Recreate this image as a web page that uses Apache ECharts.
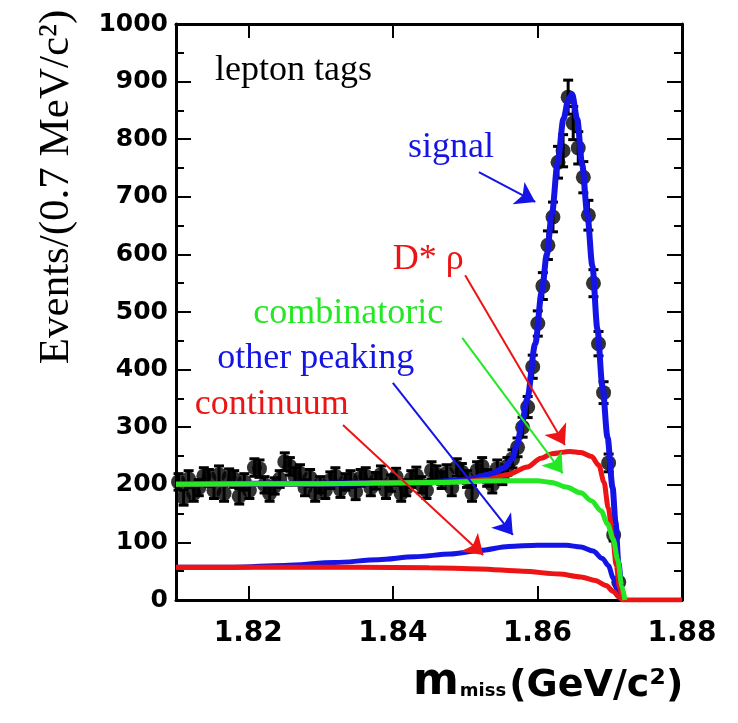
<!DOCTYPE html>
<html>
<head>
<meta charset="utf-8">
<script src="https://cdn.jsdelivr.net/npm/echarts@6/dist/echarts.min.js"></script>
<style>
  html, body { margin: 0; padding: 0; background: #fff; }
  #chart { width: 738px; height: 723px; }
</style>
</head>
<body>
<div id="chart"></div>
<script>
// histogram binning: 0.7 MeV/c^2 bins from 1.81 GeV/c^2
const binStart = 1.81
const binWidth = 0.0007

// events per bin
const counts = [
  205, 178, 210, 185, 195, 215, 212, 190, 218, 185,
  213, 210, 180, 205, 190, 230, 228, 200, 185, 198,
  210, 240, 232, 215, 220, 195, 212, 185, 200, 190,
  208, 215, 192, 205, 210, 188, 212, 215, 195, 207,
  218, 190, 203, 214, 185, 195, 210, 216, 200, 190,
  225, 218, 208, 220, 195, 230, 222, 210, 185, 225,
  232, 212, 200, 228, 215, 232, 245, 265, 300, 335,
  405, 480, 545, 616, 665, 760, 780, 873, 828, 785,
  734, 668, 550, 445, 360, 238, 113, 31
]

const xTicks = [1.82, 1.84, 1.86, 1.88]

// fit components, [mmiss, events]
const totalFit = [
  [1.810, 201], [1.830, 202], [1.845, 204], [1.850, 208], [1.8535, 218],
  [1.8555, 230], [1.8565, 245], [1.8572, 270], [1.8579, 310], [1.8586, 350],
  [1.8597, 445], [1.8606, 535], [1.8613, 600], [1.862, 670], [1.8628, 760],
  [1.8636, 835], [1.8643, 870], [1.8648, 878], [1.8655, 835], [1.8662, 755],
  [1.8669, 670], [1.8676, 580], [1.8683, 470], [1.869, 370], [1.8697, 282],
  [1.8704, 195], [1.8708, 135], [1.8712, 64], [1.8717, 12], [1.872, 0]
]
const dstarRho = [
  [1.810, 201], [1.830, 202], [1.845, 204], [1.850, 206], [1.853, 209],
  [1.856, 218], [1.8586, 231], [1.8605, 246], [1.862, 254], [1.8645, 258],
  [1.866, 256], [1.8675, 249], [1.8685, 234], [1.8692, 205], [1.8698, 160],
  [1.8704, 110], [1.8709, 60], [1.8714, 20], [1.8718, 0]
]
const combinatoric = [
  [1.810, 201], [1.830, 202], [1.845, 204], [1.855, 207], [1.860, 207],
  [1.862, 204], [1.864, 196], [1.866, 186], [1.8675, 172], [1.8688, 155],
  [1.8697, 132], [1.8705, 105], [1.8711, 70], [1.8717, 23], [1.8721, 0]
]
const otherPeaking = [
  [1.810, 57], [1.818, 57], [1.825, 60], [1.832, 65], [1.838, 70],
  [1.843, 75], [1.848, 80], [1.852, 86], [1.856, 93], [1.860, 95],
  [1.864, 95], [1.866, 92], [1.8677, 85], [1.869, 72], [1.8698, 60],
  [1.8705, 38], [1.8711, 14], [1.8716, 0]
]
const continuum = [
  [1.810, 57], [1.825, 57], [1.835, 57], [1.845, 56], [1.852, 54],
  [1.858, 50], [1.863, 45], [1.866, 40], [1.868, 34], [1.8695, 25],
  [1.8705, 15], [1.8713, 5], [1.8718, 0], [1.880, 0]
]

const BLUE = '#1414e6'
const GREEN = '#25e825'
const RED = '#ec1414'

// labels: text, baseline anchor in data units, colour
const notes = [
  { text: 'lepton tags', at: [1.8154, 898], color: '#000' },
  { text: 'signal', at: [1.8421, 764], color: BLUE },
  { text: 'D* ρ', at: [1.8400, 570], color: RED },
  { text: 'combinatoric', at: [1.8207, 476], color: GREEN },
  { text: 'other peaking', at: [1.8157, 399], color: BLUE },
  { text: 'continuum', at: [1.8126, 318], color: RED }
]
// arrows: from -> to, in data units
const arrows = [
  { coords: [[1.8519, 743], [1.8597, 691]], color: BLUE },
  { coords: [[1.8500, 564], [1.8638, 269]], color: RED },
  { coords: [[1.8496, 455], [1.8635, 220]], color: GREEN },
  { coords: [[1.8400, 377], [1.8566, 113]], color: BLUE },
  { coords: [[1.8331, 304], [1.8525, 78]], color: RED }
]

const points = counts.map((c, i) => [binStart + (i + 0.5) * binWidth, c])

const chart = echarts.init(document.getElementById('chart'))

const fitLine = (name, data, color, width) => ({
  name,
  type: 'line',
  data,
  symbol: 'none',
  smooth: 0.3,
  smoothMonotone: 'x',
  lineStyle: { color, width },
  silent: true
})

const frame = { color: '#000', width: 3 }
const tickStyle = { color: '#000', width: 2 }
chart.setOption({
  animation: false,
  grid: { left: 176, right: 56, top: 24, bottom: 123, show: true, borderColor: '#000', borderWidth: 2 },
  xAxis: [
    {
      type: 'value', min: 1.81, max: 1.88, position: 'bottom',
      axisLine: { onZero: false, lineStyle: frame },
      axisTick: { inside: true, length: 14, customValues: xTicks, lineStyle: tickStyle },
      axisLabel: {
        customValues: xTicks, formatter: v => v.toFixed(2), margin: 20,
        color: '#000', fontFamily: 'DejaVu Sans', fontWeight: 'bold', fontSize: 28
      },
      splitLine: { show: false }
    },
    {
      type: 'value', min: 1.81, max: 1.88, position: 'top',
      axisLine: { onZero: false, lineStyle: frame },
      axisTick: { inside: true, length: 14, customValues: xTicks, lineStyle: tickStyle },
      axisLabel: { show: false },
      splitLine: { show: false }
    }
  ],
  yAxis: [
    {
      type: 'value', min: 0, max: 1000, interval: 100, position: 'left',
      axisLine: { show: true, onZero: false, lineStyle: frame },
      axisTick: { show: true, inside: true, length: 15, lineStyle: tickStyle },
      minorTick: { show: true, splitNumber: 2, length: 8, lineStyle: tickStyle },
      axisLabel: {
        margin: 8, formatter: v => String(v),
        color: '#000', fontFamily: 'DejaVu Sans', fontWeight: 'bold', fontSize: 25
      },
      splitLine: { show: false }
    },
    {
      type: 'value', min: 0, max: 1000, interval: 100, position: 'right',
      axisLine: { show: true, onZero: false, lineStyle: frame },
      axisTick: { show: true, inside: true, length: 15, lineStyle: tickStyle },
      minorTick: { show: true, splitNumber: 2, length: 8, lineStyle: tickStyle },
      axisLabel: { show: false },
      splitLine: { show: false }
    }
  ],
  series: [
    {
      name: 'errors',
      type: 'custom',
      data: points,
      silent: true,
      renderItem: (params, api) => {
        const x = api.value(0)
        const y = api.value(1)
        const e = Math.sqrt(y)
        const top = api.coord([x, y + e])
        const bot = api.coord([x, y - e])
        const st = { stroke: '#000', lineWidth: 3 }
        return {
          type: 'group',
          children: [
            { type: 'line', shape: { x1: top[0], y1: top[1], x2: bot[0], y2: bot[1] }, style: st },
            { type: 'line', shape: { x1: top[0] - 5, y1: top[1], x2: top[0] + 5, y2: top[1] }, style: st },
            { type: 'line', shape: { x1: bot[0] - 5, y1: bot[1], x2: bot[0] + 5, y2: bot[1] }, style: st }
          ]
        }
      }
    },
    {
      name: 'data',
      type: 'scatter',
      data: points,
      symbol: 'circle',
      symbolSize: 15,
      itemStyle: { color: '#000' },
      silent: true
    },
    fitLine('total', totalFit, BLUE, 6),
    fitLine('other peaking', otherPeaking, BLUE, 5),
    fitLine('continuum', continuum, RED, 5),
    fitLine('D* rho', dstarRho, RED, 5),
    fitLine('combinatoric', combinatoric, GREEN, 5),
    {
      name: 'arrows',
      type: 'lines',
      coordinateSystem: 'cartesian2d',
      symbol: ['none', 'arrow'],
      symbolSize: 19,
      silent: true,
      data: arrows.map(a => ({ coords: a.coords, lineStyle: { color: a.color, width: 2, opacity: 1 } })),
      z: 5
    }
  ]
})

// annotations placed from data coordinates
const graphics = notes.map(n => {
  const p = chart.convertToPixel({ gridIndex: 0 }, n.at)
  return {
    type: 'text', x: p[0], y: p[1] - 12, z: 10,
    style: {
      text: n.text, fill: n.color, fontFamily: 'Liberation Serif', fontSize: 36,
      align: 'left', verticalAlign: 'middle'
    }
  }
})
graphics.push({
  type: 'text', x: 57, y: 187, rotation: Math.PI / 2, z: 10,
  style: {
    text: 'Events/(0.7 MeV/c²)', fill: '#000', fontFamily: 'Liberation Serif', fontSize: 43,
    align: 'center', verticalAlign: 'middle'
  }
})
graphics.push({
  type: 'text', x: 413, y: 705, z: 10,
  style: {
    text: '{m|m}{s|miss}{u|(GeV/c²)}', fill: '#000', align: 'left', verticalAlign: 'bottom',
    rich: {
      m: { fontFamily: 'DejaVu Sans', fontWeight: 'bold', fontSize: 44, verticalAlign: 'bottom' },
      s: { fontFamily: 'DejaVu Sans', fontWeight: 'bold', fontSize: 18, verticalAlign: 'bottom', padding: [0, 3, 5, 1] },
      u: { fontFamily: 'DejaVu Sans', fontWeight: 'bold', fontSize: 38, verticalAlign: 'bottom' }
    }
  }
})
chart.setOption({ graphic: graphics })
</script>
</body>
</html>
